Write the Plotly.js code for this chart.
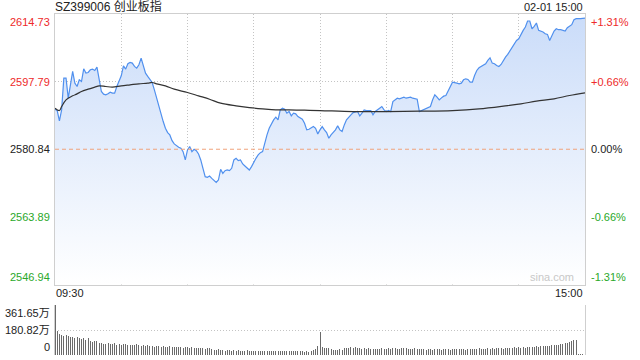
<!DOCTYPE html>
<html>
<head>
<meta charset="utf-8">
<script src="https://cdn.plot.ly/plotly-3.0.1.min.js"></script>
<style>html,body{margin:0;padding:0;background:#fff;}#chart{width:640px;height:360px;}</style>
</head>
<body>
<div id="chart"></div>
<script>
// ---- data (minute index from 09:30; 0..120 morning, 120..240 afternoon) ----
const title = "SZ399006 创业板指";
const dateLabel = "02-01 15:00";
const prevClose = 2580.84;
const priceTicks = [2614.73, 2597.79, 2580.84, 2563.89, 2546.94];
const pctTicks = ["+1.31%", "+0.66%", "0.00%", "-0.66%", "-1.31%"];
const volTicks = [361.65, 180.82, 0];
const volTickText = ["361.65万", "180.82万", "0"];
const timeLabels = ["09:30", "15:00"];

const priceMin = [0,1,2,3,4,5,6,7,8,9,10,11,12,13,14,15,16,17,18,19,20,21,22,23,24,25,26,27,28,29,30,31,32,33,34,35,36,37,38,39,40,41,42,43,44,45,46,47,48,49,50,51,52,53,54,55,56,57,58,59,60,61,62,63,64,65,66,67,68,69,70,71,72,73,74,75,76,77,78,79,80,81,82,83,84,85,86,87,88,89,90,91,92,93,94,95,96,97,98,99,100,101,102,103,104,105,106,107,108,109,110,111,112,113,114,115,116,117,118,119,120,121,122,123,124,125,127,128,129,130,131,132,134,135,137,138,139,140,141,143,144,145,147,148,149,150,151,152,153,155,156,157,158,159,161,162,164,165,166,167,168,170,171,172,173,174,175,176,177,178,179,180,182,183,184,185,186,187,188,189,190,191,192,194,195,196,197,198,199,200,201,202,203,204,205,206,207,208,209,210,211,212,213,214,215,216,217,218,219,220,221,222,223,224,225,226,227,228,229,230,231,232,233,234,235,236,238,240];
const priceVal = [2590.87,2590.54,2587.94,2590.70,2598.66,2598.66,2593.63,2596.56,2600.33,2597.40,2596.56,2598.24,2597.82,2601.00,2599.91,2600.08,2600.75,2600.92,2600.58,2601.42,2598.24,2595.31,2594.64,2594.47,2594.72,2595.14,2594.89,2594.89,2596.56,2598.07,2599.24,2601.75,2600.92,2602.26,2602.59,2602.42,2601.59,2601.17,2602.00,2603.68,2601.59,2599.91,2599.08,2598.41,2597.57,2595.73,2593.63,2591.96,2589.45,2587.78,2586.10,2585.01,2584.43,2583.00,2582.17,2581.67,2581.33,2581.08,2580.24,2578.15,2580.66,2581.50,2580.24,2580.83,2580.49,2579.66,2578.15,2576.06,2573.96,2573.80,2574.13,2573.55,2573.13,2572.54,2573.13,2575.81,2574.80,2575.47,2575.64,2575.47,2576.06,2578.15,2578.57,2577.98,2578.15,2577.15,2576.64,2576.06,2575.64,2576.48,2577.73,2578.57,2579.41,2579.99,2580.24,2582.75,2584.43,2586.10,2587.36,2588.20,2588.86,2588.20,2590.70,2591.12,2590.87,2589.87,2590.29,2589.20,2589.87,2589.70,2589.03,2588.61,2588.36,2587.36,2585.69,2585.85,2586.27,2586.52,2586.10,2584.68,2585.69,2586.52,2585.69,2585.01,2583.59,2584.43,2585.69,2586.69,2585.69,2585.27,2586.94,2588.20,2589.45,2590.03,2590.29,2589.20,2589.87,2590.70,2590.54,2590.54,2589.45,2590.29,2591.12,2591.54,2590.70,2590.29,2590.54,2590.29,2592.80,2593.63,2593.47,2593.63,2593.89,2593.63,2593.89,2593.63,2593.38,2590.29,2590.54,2590.87,2591.12,2591.54,2593.22,2594.47,2593.89,2593.22,2593.72,2594.14,2594.30,2595.31,2596.40,2597.65,2597.40,2597.23,2597.40,2598.24,2598.49,2598.32,2597.65,2597.65,2599.33,2600.58,2601.25,2601.84,2602.26,2603.09,2603.76,2602.42,2602.26,2601.84,2601.59,2602.09,2603.09,2603.93,2604.60,2605.44,2606.44,2607.28,2608.11,2608.53,2609.79,2610.63,2611.46,2612.97,2612.97,2611.04,2611.63,2612.47,2610.63,2610.46,2610.21,2609.79,2609.62,2608.11,2609.12,2610.46,2611.04,2610.79,2610.79,2610.63,2610.46,2611.29,2611.63,2612.05,2613.30,2613.55,2613.55,2613.72];

const avgMin = [0,2,3,5,8,10,12,15,18,20,23,26,30,34,38,42,44,46,50,54,60,65,70,75,82,88,94,100,106,113,120,135,150,165,180,192,205,211,218,226,233,240];
const avgVal = [2591.12,2590.54,2591.54,2593.22,2594.22,2594.72,2595.31,2595.89,2596.40,2596.73,2596.56,2596.40,2596.73,2596.98,2597.23,2597.40,2597.57,2597.23,2596.73,2595.89,2595.06,2594.22,2593.38,2592.38,2591.71,2591.29,2590.96,2590.70,2590.70,2590.62,2590.54,2590.29,2590.29,2590.37,2590.54,2590.96,2591.79,2592.21,2592.88,2593.47,2594.30,2594.97];

// volume in 万, one per minute 0..240
const volume = [
361.65,
175,150,148,140,145,140,132,130,125,128,
122,118,120,108,125,98,95,98,100,90,
88,82,80,84,78,80,84,74,76,72,
78,82,72,75,70,72,78,70,68,72,
65,70,62,68,60,66,64,58,62,60,
58,62,55,60,57,55,58,52,60,55,
52,56,50,54,48,52,50,46,52,48,
42,38,36,40,34,36,32,35,33,30,
34,30,33,28,32,30,34,29,32,30,
28,32,29,31,27,30,28,32,27,29,
31,27,30,28,32,26,29,27,30,26,
28,31,25,27,24,30,36,42,65,168,
55,50,48,50,45,36,38,35,40,36,
48,50,52,55,50,58,48,52,45,48,
44,50,42,46,44,40,42,48,44,46,
50,42,48,52,46,44,50,54,48,46,
42,44,48,40,44,46,42,38,44,40,
38,42,45,40,38,44,40,42,38,40,
42,45,40,44,42,38,46,42,44,40,
45,48,42,46,44,50,45,48,46,52,
48,50,46,52,48,54,50,55,52,56,
54,58,52,56,60,55,58,62,60,64,
62,66,68,64,70,72,75,70,78,80,
85,90,95,100,105,110,8,6,10,180
];
const volMin = volume.map((_, i) => i);

// ---- styles ----
const FONT = "Arial, 'Liberation Sans', 'Noto Sans CJK SC', sans-serif";
const RED = "#ee2a2a", GREEN = "#2aa82a", DARK = "#222";
const GRID = "#c4c4c4";
const DOT = "1px,2px";
const tickColors = [RED, RED, DARK, GREEN, GREEN];

const traces = [
  {
    x: priceMin, y: priceVal, type: "scatter", mode: "lines",
    line: {color: "#5090ee", width: 1.2},
    fill: "tozeroy",
    fillgradient: {type: "vertical", start: priceTicks[4], stop: priceTicks[0],
      colorscale: [[0, "rgba(255,255,255,1)"], [1, "rgb(202,220,249)"]]},
    xaxis: "x", yaxis: "y", hoverinfo: "skip"
  },
  {
    x: avgMin, y: avgVal, type: "scatter", mode: "lines",
    line: {color: "#333", width: 1.2, shape: "spline"},
    xaxis: "x", yaxis: "y", hoverinfo: "skip"
  },
  {
    x: volMin, y: volume, type: "bar", width: 0.45,
    marker: {color: "#6a6a6a", line: {width: 0}},
    xaxis: "x2", yaxis: "y2", hoverinfo: "skip"
  }
];

const annotations = [];
priceTicks.forEach((v, k) => {
  const anchor = k === 0 ? "top" : (k === priceTicks.length - 1 ? "bottom" : "middle");
  annotations.push({xref: "paper", yref: "y", x: 0, y: v, xanchor: "right", yanchor: anchor,
    xshift: -3, text: v.toFixed(2), showarrow: false, font: {size: 11, color: tickColors[k], family: FONT}});
  annotations.push({xref: "paper", yref: "y", x: 1, y: v, xanchor: "left", yanchor: anchor,
    xshift: 4, text: pctTicks[k], showarrow: false, font: {size: 11, color: tickColors[k], family: FONT}});
});
volTicks.forEach((v, k) => {
  const anchor = k === 0 ? "top" : (k === volTicks.length - 1 ? "bottom" : "middle");
  annotations.push({xref: "paper", yref: "y2", x: 0, y: v, xanchor: "right", yanchor: anchor,
    xshift: -3, text: volTickText[k], showarrow: false, font: {size: 11, color: DARK, family: FONT}});
});
annotations.push({xref: "paper", yref: "paper", x: 1, y: 1, xanchor: "right", yanchor: "bottom",
  yshift: -1, text: dateLabel, showarrow: false, font: {size: 11, color: DARK, family: FONT}});
annotations.push({xref: "paper", yref: "y", x: 0, y: priceTicks[4], xanchor: "left", yanchor: "top",
  xshift: -1, text: timeLabels[0], showarrow: false, font: {size: 11, color: DARK, family: FONT}});
annotations.push({xref: "paper", yref: "y", x: 1, y: priceTicks[4], xanchor: "right", yanchor: "top",
  text: timeLabels[1], showarrow: false, font: {size: 11, color: DARK, family: FONT}});
annotations.push({xref: "paper", yref: "y", x: 1, y: priceTicks[4], xanchor: "right", yanchor: "bottom",
  xshift: -9, text: "sina.com", showarrow: false, font: {size: 11, color: "#c8c8c8", family: FONT}});

const layout = {
  width: 640, height: 360,
  margin: {l: 55, r: 55, t: 14, b: 5},
  paper_bgcolor: "#fff", plot_bgcolor: "rgba(0,0,0,0)",
  showlegend: false,
  font: {family: FONT},
  title: {text: title, x: 0, xref: "paper", xanchor: "left", y: 0.981, yref: "container", yanchor: "middle",
    pad: {l: 0, r: 0, t: 0, b: 0}, font: {size: 12, color: DARK, family: FONT}},
  xaxis: {domain: [0, 1], range: [0, 240], anchor: "y",
    tickvals: [30, 60, 90, 120, 150, 180, 210], showticklabels: false, ticks: "",
    showgrid: true, gridcolor: GRID, griddash: DOT, gridwidth: 1,
    showline: true, mirror: true, linecolor: "#cfcfcf", linewidth: 1, zeroline: false},
  yaxis: {domain: [0.2067, 1], range: [priceTicks[4], priceTicks[0]], anchor: "x",
    tickvals: [priceTicks[1], priceTicks[3]], showticklabels: false, ticks: "",
    showgrid: true, gridcolor: GRID, griddash: DOT,
    showline: true, mirror: true, linecolor: "#cfcfcf", linewidth: 1, zeroline: false},
  xaxis2: {domain: [0, 1], range: [0, 240], anchor: "y2", matches: "x",
    showticklabels: false, ticks: "", showgrid: false, showline: false, zeroline: false},
  yaxis2: {domain: [0, 0.1466], range: [0, volTicks[0]], anchor: "x2",
    tickvals: [volTicks[1], volTicks[0]], showticklabels: false, ticks: "",
    showgrid: true, gridcolor: GRID, griddash: DOT,
    showline: true, mirror: true, linecolor: "#cfcfcf", zeroline: false},
  shapes: [{type: "line", xref: "paper", x0: 0, x1: 1, yref: "y", y0: prevClose, y1: prevClose,
    line: {color: "#f0a27a", width: 1, dash: "4px,3px"}}],
  annotations: annotations,
  bargap: 0
};

Plotly.newPlot("chart", traces, layout, {staticPlot: true, displayModeBar: false});
</script>
</body>
</html>
